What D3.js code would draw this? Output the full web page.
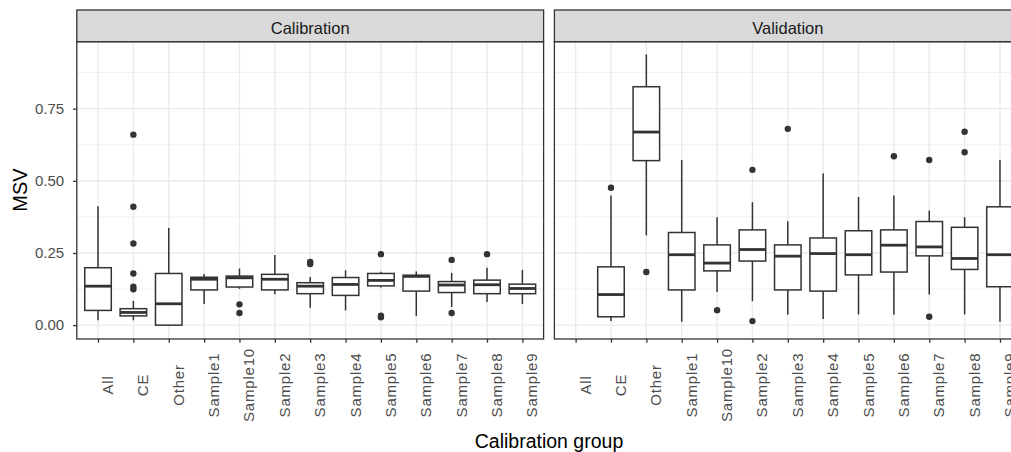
<!DOCTYPE html>
<html>
<head>
<meta charset="utf-8">
<script src="https://cdn.jsdelivr.net/npm/d3@7"></script>
<style>
  body { margin: 0; background: #fff; }
  text { font-family: "Liberation Sans", Arial, sans-serif; }
</style>
</head>
<body>
<div id="chart"></div>
<script>
var categories = ['All', 'CE', 'Other', 'Sample1', 'Sample10', 'Sample2', 'Sample3',
                  'Sample4', 'Sample5', 'Sample6', 'Sample7', 'Sample8', 'Sample9'];
var yTicks = [0, 0.25, 0.5, 0.75];
var yMinor = [0.125, 0.375, 0.625, 0.875];

// Calibration boxes
var calLow    = [0.017, 0.017, 0.000, 0.073, 0.126, 0.107, 0.060, 0.051, 0.130, 0.032, 0.063, 0.080, 0.073];
var calQ1     = [0.051, 0.032, 0.000, 0.122, 0.132, 0.122, 0.109, 0.103, 0.136, 0.118, 0.113, 0.109, 0.109];
var calMedian = [0.135, 0.044, 0.074, 0.159, 0.164, 0.159, 0.135, 0.141, 0.155, 0.169, 0.139, 0.140, 0.127];
var calQ3     = [0.199, 0.057, 0.179, 0.166, 0.170, 0.176, 0.147, 0.165, 0.179, 0.173, 0.151, 0.156, 0.142];
var calHigh   = [0.412, 0.084, 0.337, 0.177, 0.196, 0.243, 0.167, 0.190, 0.185, 0.186, 0.181, 0.199, 0.191];
var calOutliers = [[], [0.66, 0.41, 0.283, 0.179, 0.133, 0.124], [], [], [0.072, 0.042], [],
                   [0.219, 0.212], [], [0.246, 0.033, 0.027], [], [0.226, 0.042], [0.246], []];

// Validation boxes (no data for All)
var valLow    = [null, 0.014, 0.311, 0.012, 0.115, 0.083, 0.037, 0.021, 0.037, 0.037, 0.106, 0.037, 0.012];
var valQ1     = [null, 0.029, 0.570, 0.122, 0.188, 0.222, 0.122, 0.118, 0.174, 0.184, 0.240, 0.193, 0.133];
var valMedian = [null, 0.106, 0.669, 0.244, 0.215, 0.262, 0.239, 0.248, 0.244, 0.277, 0.271, 0.231, 0.244];
var valQ3     = [null, 0.202, 0.826, 0.321, 0.278, 0.330, 0.278, 0.302, 0.327, 0.330, 0.359, 0.339, 0.410];
var valHigh   = [null, 0.449, 0.938, 0.572, 0.374, 0.426, 0.360, 0.525, 0.444, 0.449, 0.397, 0.374, 0.572];
var valOutliers = [[], [0.476], [0.184], [], [0.052], [0.538, 0.014], [0.680], [], [],
                   [0.585], [0.572, 0.029], [0.670, 0.599], []];

var width = 1011, height = 452;
var stripTop = 10, panelTop = 41.7, panelBottom = 339;
var panelW = 466.8;
var dark = '#333333';

var svg = d3.select('#chart').append('svg')
            .attr('width', width)
            .attr('height', height);

var y = d3.scaleLinear()
          .domain([-0.048, 0.982])
          .range([panelBottom, panelTop]);

function drawPanel(left, title, lo, q1, med, q3, hi, outl, showY) {
  var x = d3.scalePoint()
            .domain(categories)
            .range([left, left + panelW])
            .padding(0.6);
  var bw = x.step() * 0.75;
  var g = svg.append('g');

  // grid
  g.selectAll('.minor').data(yMinor).enter().append('line')
   .attr('x1', left).attr('x2', left + panelW)
   .attr('y1', function(d) { return y(d); }).attr('y2', function(d) { return y(d); })
   .style('stroke', '#f0f0f0').style('stroke-width', 1);
  g.selectAll('.major').data(yTicks).enter().append('line')
   .attr('x1', left).attr('x2', left + panelW)
   .attr('y1', function(d) { return y(d); }).attr('y2', function(d) { return y(d); })
   .style('stroke', '#ebebeb').style('stroke-width', 1.4);
  g.selectAll('.vgrid').data(categories).enter().append('line')
   .attr('x1', function(d) { return x(d); }).attr('x2', function(d) { return x(d); })
   .attr('y1', panelTop).attr('y2', panelBottom)
   .style('stroke', '#ebebeb').style('stroke-width', 1.4);

  // boxes
  categories.forEach(function(c, i) {
    if (q1[i] === null) return;
    var cx = x(c);
    g.append('line')
     .attr('x1', cx).attr('x2', cx).attr('y1', y(hi[i])).attr('y2', y(q3[i]))
     .style('stroke', dark).style('stroke-width', 1.5);
    g.append('line')
     .attr('x1', cx).attr('x2', cx).attr('y1', y(q1[i])).attr('y2', y(lo[i]))
     .style('stroke', dark).style('stroke-width', 1.5);
    g.append('rect')
     .attr('x', cx - bw / 2).attr('width', bw)
     .attr('y', y(q3[i])).attr('height', Math.max(0, y(q1[i]) - y(q3[i])))
     .style('fill', '#fff').style('stroke', dark).style('stroke-width', 1.5);
    g.append('line')
     .attr('x1', cx - bw / 2).attr('x2', cx + bw / 2)
     .attr('y1', y(med[i])).attr('y2', y(med[i]))
     .style('stroke', dark).style('stroke-width', 2.8);
    g.selectAll('.out' + i).data(outl[i]).enter().append('circle')
     .attr('cx', cx).attr('cy', function(d) { return y(d); })
     .attr('r', 3.2)
     .style('fill', dark);
  });

  // panel border
  g.append('rect')
   .attr('x', left).attr('y', panelTop)
   .attr('width', panelW).attr('height', panelBottom - panelTop)
   .style('fill', 'none').style('stroke', dark).style('stroke-width', 1.3);

  // strip
  g.append('rect')
   .attr('x', left).attr('y', stripTop)
   .attr('width', panelW).attr('height', panelTop - stripTop)
   .style('fill', '#d9d9d9').style('stroke', dark).style('stroke-width', 1.3);
  g.append('text')
   .attr('x', left + panelW / 2).attr('y', 34)
   .attr('text-anchor', 'middle')
   .style('font-size', '16.5px').style('fill', '#1a1a1a')
   .text(title);

  // x axis
  var xa = g.append('g')
            .attr('transform', 'translate(0,' + panelBottom + ')')
            .call(d3.axisBottom(x).tickSize(3.7));
  xa.select('.domain').remove();
  xa.selectAll('line').style('stroke', dark).style('stroke-width', 1.3);
  xa.selectAll('text')
    .attr('x', 0).attr('y', 0).attr('dy', 0)
    .attr('transform', 'translate(14.5,46) rotate(-90)')
    .attr('text-anchor', 'middle')
    .style('font-size', '15px').style('letter-spacing', '0.8px')
    .style('font-family', '"Liberation Sans", Arial, sans-serif')
    .style('fill', '#4d4d4d');

  if (showY) {
    var ya = g.append('g')
              .attr('transform', 'translate(' + left + ',0)')
              .call(d3.axisLeft(y).tickValues(yTicks).tickFormat(d3.format('.2f'))
                                  .tickSize(3.7).tickPadding(9));
    ya.select('.domain').remove();
    ya.selectAll('line').style('stroke', dark).style('stroke-width', 1.3);
    ya.selectAll('text')
      .style('font-size', '15px')
      .style('font-family', '"Liberation Sans", Arial, sans-serif')
      .style('fill', '#4d4d4d');
  }
}

drawPanel(76.8, 'Calibration', calLow, calQ1, calMedian, calQ3, calHigh, calOutliers, true);
drawPanel(554.4, 'Validation', valLow, valQ1, valMedian, valQ3, valHigh, valOutliers, false);

svg.append('text')
   .attr('transform', 'translate(26.5,190) rotate(-90)')
   .attr('text-anchor', 'middle')
   .style('font-size', '20px').style('fill', '#000')
   .text('MSV');

svg.append('text')
   .attr('x', 549).attr('y', 448)
   .attr('text-anchor', 'middle')
   .style('font-size', '19.5px').style('fill', '#000')
   .text('Calibration group');
</script>
</body>
</html>
